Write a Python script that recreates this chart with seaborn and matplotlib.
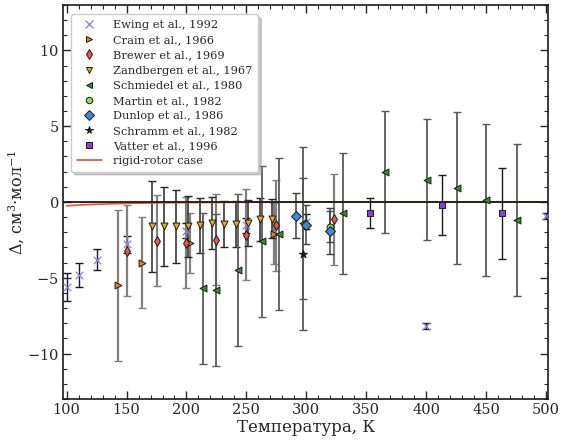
import numpy as np
import pandas as pd
import matplotlib
matplotlib.use("Agg")
import matplotlib.pyplot as plt
import seaborn as sns
from matplotlib.lines import Line2D

# ---------------- data ----------------
ewing_T = [100, 110, 125, 150, 200, 250, 300, 400, 500]
ewing_D = [-5.6, -4.8, -3.8, -2.8, -1.9, -1.55, -1.3, -8.2, -0.95]
ewing_E = [0.9, 0.8, 0.7, 0.55, 0.5, 0.5, 0.5, 0.2, 0.2]

crain_T = [143, 163, 203, 273]
crain_D = [-5.5, -4.0, -2.7, -2.1]
crain_E = [5.0, 3.0, 2.0, 2.0]

brewer_T = [150, 175, 200, 225, 250, 275, 323]
brewer_D = [-3.2, -2.55, -2.7, -2.5, -2.15, -1.55, -1.15]
brewer_E = [3.0, 3.0, 3.0, 3.0, 3.0, 3.0, 3.0]

zand_T = [171, 181, 191, 201, 211, 221, 231, 241, 251, 261, 271]
zand_D = [-1.6, -1.6, -1.6, -1.6, -1.55, -1.4, -1.45, -1.45, -1.4, -1.15, -1.1]
zand_E = [3.0, 2.6, 2.4, 2.0, 1.8, 1.7, 1.5, 1.5, 1.5, 1.4, 1.3]

schm_T = [214, 225, 243, 263, 277, 297, 331, 366, 401, 426, 450, 476]
schm_D = [-5.7, -5.8, -4.5, -2.6, -2.1, -1.4, -0.75, 1.97, 1.48, 0.93, 0.13, -1.2]
schm_E = [5.0, 5.0, 5.0, 5.0, 5.0, 5.0, 4.0, 4.0, 4.0, 5.0, 5.0, 5.0]

martin_T = [320]
martin_D = [-1.62]
martin_E = [1.0]

dunlop_T = [291, 300, 320]
dunlop_D = [-0.9, -1.5, -1.93]
dunlop_E = [1.5, 1.3, 1.5]

schramm_T = [297]
schramm_D = [-3.45]
schramm_E = [5.0]

vatter_T = [353, 413, 463]
vatter_D = [-0.74, -0.2, -0.74]
vatter_E = [1.0, 2.0, 3.0]

rigid_T = [100, 110, 125, 150, 175, 200, 250, 300, 400, 500]
rigid_D = [-0.25, -0.2, -0.15, -0.09, -0.06, -0.04, -0.02, -0.01, -0.005, -0.002]

labels = ["Ewing et al., 1992", "Crain et al., 1966", "Brewer et al., 1969",
          "Zandbergen et al., 1967", "Schmiedel et al., 1980", "Martin et al., 1982",
          "Dunlop et al., 1986", "Schramm et al., 1982", "Vatter et al., 1996"]

# ---------------- style ----------------
sns.set_theme(style="ticks")
plt.rcParams["font.family"] = ["DejaVu Serif"]
plt.rcParams["mathtext.fontset"] = "dejavuserif"
plt.rcParams["xtick.direction"] = "in"
plt.rcParams["ytick.direction"] = "in"

fig = plt.figure(figsize=(5.63, 4.41), dpi=100)
ax = fig.add_axes([0.112, 0.095, 0.862, 0.894])

series = [
    (ewing_T, ewing_D, ewing_E, "x", "#8a7fd6", 5.5, "k", 1.0),
    (crain_T, crain_D, crain_E, ">", "#e8801c", 4.2, "0.5", 1.6),
    (brewer_T, brewer_D, brewer_E, "d", "#e5584d", 4.2, "0.5", 1.6),
    (zand_T, zand_D, zand_E, "v", "#f2a81d", 4.2, "0.15", 1.1),
    (schm_T, schm_D, schm_E, "<", "#3c8c2e", 4.2, "0.35", 1.3),
    (martin_T, martin_D, martin_E, "o", "#8ee04a", 4.2, "0.3", 1.1),
    (dunlop_T, dunlop_D, dunlop_E, "D", "#3f86d6", 4.3, "0.25", 1.1),
    (schramm_T, schramm_D, schramm_E, "*", "k", 5.0, "0.35", 1.3),
    (vatter_T, vatter_D, vatter_E, "s", "#8a3fd8", 4.2, "k", 1.0),
]

handles = []
for (T, D, E, m, c, ms, ec, elw), lab in zip(series, labels):
    ax.errorbar(T, D, yerr=E, fmt="none", ecolor=ec, elinewidth=elw,
                capsize=3, capthick=1.0, zorder=2)
    df = pd.DataFrame({"T": T, "D": D})
    if m == "x":
        sns.scatterplot(data=df, x="T", y="D", marker=m, color=c, s=ms**2,
                        linewidth=0.9, ax=ax, zorder=4, legend=False)
        handles.append(Line2D([], [], ls="none", marker=m, color=c, ms=ms, mew=0.9))
    else:
        sns.scatterplot(data=df, x="T", y="D", marker=m, color=c, s=ms**2 * 1.4,
                        edgecolor="k", linewidth=0.7, ax=ax, zorder=4, legend=False)
        handles.append(Line2D([], [], ls="none", marker=m, markerfacecolor=c,
                              markeredgecolor="k", mew=0.7, ms=ms * 1.1))

rdf = pd.DataFrame({"T": rigid_T, "D": rigid_D})
sns.lineplot(data=rdf, x="T", y="D", color="#f0502a", lw=1.2, ax=ax, zorder=3, legend=False)
handles.append(Line2D([], [], color="#f0502a", lw=1.2))
ax.axhline(0, color="k", lw=1.3, zorder=3)

ax.set_xlim(97, 502)
ax.set_ylim(-13, 13)
ax.set_xticks(np.arange(100, 501, 50))
ax.set_xticks(np.arange(100, 501, 10), minor=True)
ax.set_yticks([-10, -5, 0, 5, 10])
ax.set_yticks(np.arange(-13, 14, 1), minor=True)
ax.set_yticklabels(["$-10$", "$-5$", "$0$", "$5$", "$10$"])
ax.tick_params(which="both", direction="in", top=True, right=True, labelsize=10.5)
ax.tick_params(which="major", length=6, width=1, pad=3)
ax.tick_params(which="minor", length=3, width=0.8)
for s in ax.spines.values():
    s.set_linewidth(1.2)
    s.set_color("k")

ax.set_xlabel("Температура, К", fontsize=12, labelpad=1)
ax.set_ylabel("Δ, см$^3$·мол$^{-1}$", fontsize=11.5, labelpad=1)

leg = ax.legend(handles, labels + ["rigid-rotor case"], loc="upper left",
                fontsize=8.2, frameon=True, fancybox=True,
                shadow={"color": "0.6", "alpha": 0.5},
                handlelength=2.2, borderpad=0.5, labelspacing=0.45,
                handletextpad=1.0, bbox_to_anchor=(0.005, 0.99))
leg.get_frame().set_edgecolor("0.8")

fig.savefig("out.png", dpi=100)
